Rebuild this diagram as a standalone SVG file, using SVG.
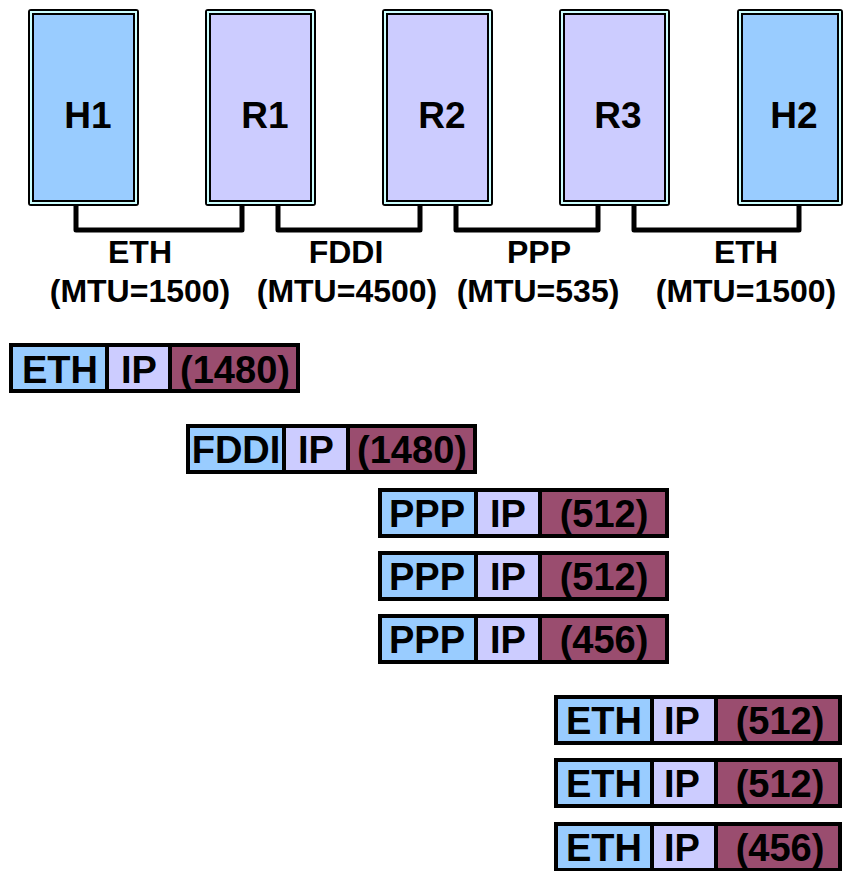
<svg xmlns="http://www.w3.org/2000/svg" width="844" height="871" viewBox="0 0 844 871">
  <style>
    .box { stroke: #000; stroke-width: 6; stroke-linejoin: round; }
    .band { fill: none; stroke: #ccffff; stroke-width: 2; }
    .host { fill: #99ccff; }
    .router { fill: #ccccff; }
    .nodelabel { font-family: "Liberation Sans", Arial, sans-serif; font-weight: bold; font-size: 37px; text-anchor: middle; fill: #000; }
    .link { fill: none; stroke: #000; stroke-width: 5; stroke-linejoin: round; }
    .linklabel { font-family: "Liberation Sans", Arial, sans-serif; font-weight: bold; font-size: 32px; text-anchor: middle; fill: #000; }
    .cell { stroke: #000; stroke-width: 4; }
    .hdr { fill: #99ccff; }
    .ip { fill: #ccccff; }
    .data { fill: #9a4d6f; }
    .pkt { font-family: "Liberation Sans", Arial, sans-serif; font-weight: bold; font-size: 38px; text-anchor: middle; fill: #000; }
  </style>

  <!-- links between hosts and routers -->
  <g id="connectors">
    <path class="link" d="M76,205 V230 H242 V205"/>
    <path class="link" d="M278,205 V230 H420 V205"/>
    <path class="link" d="M456,205 V230 H598 V205"/>
    <path class="link" d="M634,205 V230 H799 V205"/>
  </g>

  <!-- nodes -->
  <g id="H1">
    <rect class="box host" x="31" y="12" width="105" height="191"/>
    <rect class="band" x="31" y="12" width="105" height="191"/>
    <text class="nodelabel" x="88" y="128">H1</text>
  </g>
  <g id="R1">
    <rect class="box router" x="208" y="12" width="105" height="191"/>
    <rect class="band" x="208" y="12" width="105" height="191"/>
    <text class="nodelabel" x="265" y="128">R1</text>
  </g>
  <g id="R2">
    <rect class="box router" x="385" y="12" width="105" height="191"/>
    <rect class="band" x="385" y="12" width="105" height="191"/>
    <text class="nodelabel" x="442" y="128">R2</text>
  </g>
  <g id="R3">
    <rect class="box router" x="562" y="12" width="105" height="191"/>
    <rect class="band" x="562" y="12" width="105" height="191"/>
    <text class="nodelabel" x="618" y="128">R3</text>
  </g>
  <g id="H2">
    <rect class="box host" x="740" y="12" width="100" height="191"/>
    <rect class="band" x="740" y="12" width="100" height="191"/>
    <text class="nodelabel" x="794" y="128">H2</text>
  </g>

  <!-- link labels -->
  <g id="link-labels">
    <text class="linklabel" x="140" y="263">ETH</text>
    <text class="linklabel" x="140" y="302">(MTU=1500)</text>
    <text class="linklabel" x="346" y="263">FDDI</text>
    <text class="linklabel" x="347" y="302">(MTU=4500)</text>
    <text class="linklabel" x="539" y="263">PPP</text>
    <text class="linklabel" x="538" y="302">(MTU=535)</text>
    <text class="linklabel" x="746" y="263">ETH</text>
    <text class="linklabel" x="746" y="302">(MTU=1500)</text>
  </g>

  <!-- frames: header | IP | payload -->
  <g id="frame-eth-1">
    <rect class="cell hdr" x="11" y="345" width="96" height="46"/>
    <rect class="cell ip" x="107" y="345" width="63" height="46"/>
    <rect class="cell data" x="170" y="345" width="128" height="46"/>
    <text class="pkt" x="60" y="383">ETH</text>
    <text class="pkt" x="139" y="383">IP</text>
    <text class="pkt" x="235" y="383">(1480)</text>
  </g>
  <g id="frame-fddi-1">
    <rect class="cell hdr" x="188" y="426" width="96" height="46"/>
    <rect class="cell ip" x="284" y="426" width="64" height="46"/>
    <rect class="cell data" x="348" y="426" width="127" height="46"/>
    <text class="pkt" x="236" y="463">FDDI</text>
    <text class="pkt" x="316" y="463">IP</text>
    <text class="pkt" x="412" y="463">(1480)</text>
  </g>
  <g id="frame-ppp-1">
    <rect class="cell hdr" x="380" y="490" width="96" height="46"/>
    <rect class="cell ip" x="476" y="490" width="64" height="46"/>
    <rect class="cell data" x="540" y="490" width="127" height="46"/>
    <text class="pkt" x="427" y="527">PPP</text>
    <text class="pkt" x="508" y="527">IP</text>
    <text class="pkt" x="604" y="527">(512)</text>
  </g>
  <g id="frame-ppp-2">
    <rect class="cell hdr" x="380" y="553" width="96" height="46"/>
    <rect class="cell ip" x="476" y="553" width="64" height="46"/>
    <rect class="cell data" x="540" y="553" width="127" height="46"/>
    <text class="pkt" x="427" y="590">PPP</text>
    <text class="pkt" x="508" y="590">IP</text>
    <text class="pkt" x="604" y="590">(512)</text>
  </g>
  <g id="frame-ppp-3">
    <rect class="cell hdr" x="380" y="616" width="96" height="46"/>
    <rect class="cell ip" x="476" y="616" width="64" height="46"/>
    <rect class="cell data" x="540" y="616" width="127" height="46"/>
    <text class="pkt" x="427" y="653">PPP</text>
    <text class="pkt" x="508" y="653">IP</text>
    <text class="pkt" x="604" y="653">(456)</text>
  </g>
  <g id="frame-eth-2">
    <rect class="cell hdr" x="556" y="697" width="96" height="46"/>
    <rect class="cell ip" x="652" y="697" width="64" height="46"/>
    <rect class="cell data" x="716" y="697" width="124" height="46"/>
    <text class="pkt" x="604" y="734">ETH</text>
    <text class="pkt" x="682" y="734">IP</text>
    <text class="pkt" x="780" y="734">(512)</text>
  </g>
  <g id="frame-eth-3">
    <rect class="cell hdr" x="556" y="760" width="96" height="46"/>
    <rect class="cell ip" x="652" y="760" width="64" height="46"/>
    <rect class="cell data" x="716" y="760" width="124" height="46"/>
    <text class="pkt" x="604" y="797">ETH</text>
    <text class="pkt" x="682" y="797">IP</text>
    <text class="pkt" x="780" y="797">(512)</text>
  </g>
  <g id="frame-eth-4">
    <rect class="cell hdr" x="556" y="824" width="96" height="46"/>
    <rect class="cell ip" x="652" y="824" width="64" height="46"/>
    <rect class="cell data" x="716" y="824" width="124" height="46"/>
    <text class="pkt" x="604" y="861">ETH</text>
    <text class="pkt" x="682" y="861">IP</text>
    <text class="pkt" x="780" y="861">(456)</text>
  </g>
</svg>
